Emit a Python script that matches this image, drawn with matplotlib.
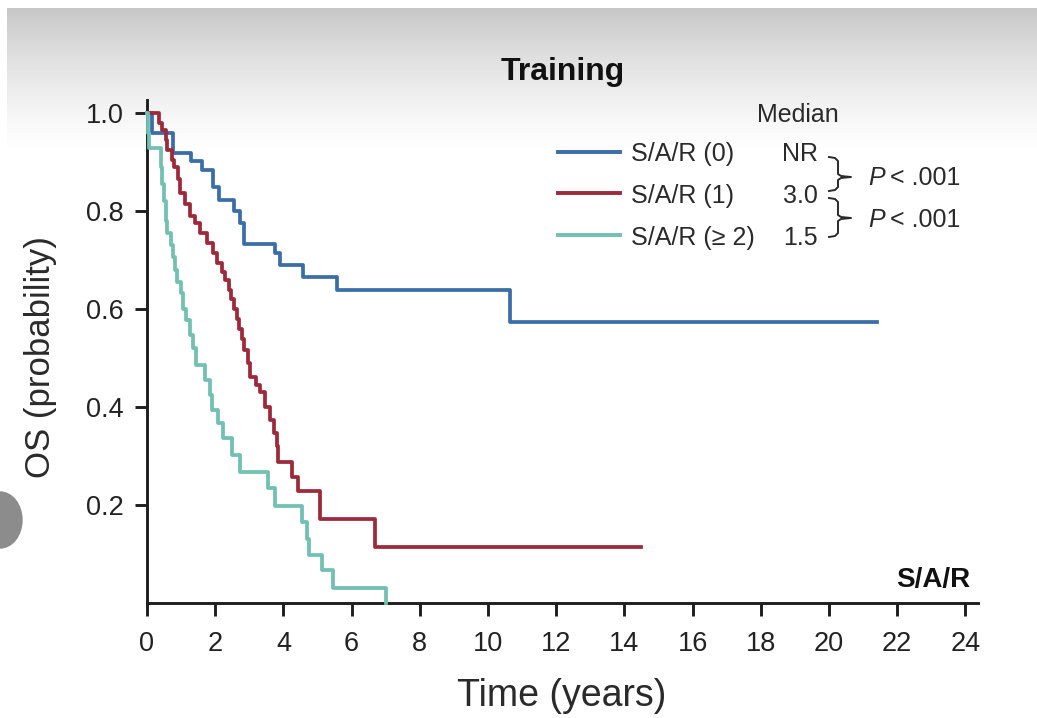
import matplotlib
matplotlib.use('Agg')
import matplotlib.pyplot as plt
import numpy as np
from matplotlib.lines import Line2D
from matplotlib.patches import Ellipse

# ---------------- data ----------------
blue_t = [0, 0.15, 0.77, 1.3, 1.6, 1.95, 2.1, 2.55, 2.72, 2.85, 3.75, 3.9, 4.57, 5.56, 10.65, 21.4]
blue_s = [1.0, 0.96, 0.918, 0.902, 0.884, 0.85, 0.822, 0.80, 0.775, 0.733, 0.714, 0.69, 0.665, 0.64, 0.573, 0.573]

red_t = [0, 0.35, 0.45, 0.55, 0.6, 0.72, 0.8, 0.9, 0.97, 1.1, 1.25, 1.4, 1.55, 1.75, 1.95, 2.05,
         2.2, 2.3, 2.4, 2.45, 2.55, 2.65, 2.7, 2.8, 2.85, 2.95, 3.02, 3.2, 3.31, 3.45, 3.6, 3.72,
         3.8, 3.85, 4.25, 4.43, 5.07, 6.69, 14.5]
red_s = [1.0, 0.98, 0.965, 0.945, 0.925, 0.905, 0.89, 0.865, 0.837, 0.815, 0.79, 0.775, 0.755, 0.735, 0.715, 0.694,
         0.675, 0.66, 0.64, 0.62, 0.60, 0.58, 0.56, 0.54, 0.516, 0.49, 0.461, 0.445, 0.43, 0.40, 0.373, 0.347,
         0.32, 0.288, 0.257, 0.229, 0.171, 0.114, 0.114]

teal_t = [0, 0.03, 0.06, 0.4, 0.45, 0.5, 0.55, 0.6, 0.7, 0.75, 0.82, 0.88, 1.0, 1.05, 1.15, 1.25, 1.35,
          1.45, 1.7, 1.85, 1.92, 2.08, 2.23, 2.5, 2.73, 3.55, 3.75, 4.55, 4.7, 4.75, 5.13, 5.45, 7.0]
teal_s = [1.0, 0.96, 0.93, 0.89, 0.855, 0.82, 0.78, 0.755, 0.73, 0.706, 0.68, 0.655, 0.632, 0.6, 0.578, 0.547, 0.52,
          0.486, 0.455, 0.425, 0.394, 0.367, 0.337, 0.302, 0.267, 0.235, 0.198, 0.165, 0.13, 0.098, 0.067, 0.03, 0.0]

group_labels = ["S/A/R (0)", "S/A/R (1)", "S/A/R (\u2265 2)"]
medians = ["NR", "3.0", "1.5"]
p_values = [".001", ".001"]
x_ticks = list(range(0, 25, 2))
y_ticks = [0.2, 0.4, 0.6, 0.8, 1.0]
y_ticklabels = ["0.2", "0.4", "0.6", "0.8", "1.0"]

colors = ['#3b6da6', '#9c2a3b', '#72c0b2']

# ---------------- figure ----------------
W, H = 1037, 718
plt.rcParams['font.family'] = ['Liberation Sans', 'DejaVu Sans']
fig = plt.figure(figsize=(W / 100, H / 100), dpi=100)


def fx(x):
    return x / W


def fy(y):
    return 1 - y / H


# background gradient
bg = fig.add_axes([0, 0, 1, 1], zorder=-10)
bg.axis('off')
rows = np.arange(H)
tt = np.clip((rows - 8) / 150.0, 0, 1)
v = 1 - 0.22 * (1 - tt) ** 1.4
v[rows < 8] = 1.0
img = np.tile(v[:, None], (1, W))
img[:, :7] = 1.0
bg.imshow(img, cmap='gray', vmin=0, vmax=1, aspect='auto', extent=[0, W, H, 0], interpolation='bilinear')
bg.set_xlim(0, W)
bg.set_ylim(H, 0)
bg.add_patch(Ellipse((0, 520), 44, 56, color='#8c8c8c'))

# main axes
ax = fig.add_axes([fx(147), fy(603), 831 / W, 503 / H])
ax.patch.set_alpha(0)
for t, s, c in zip([blue_t, red_t, teal_t], [blue_s, red_s, teal_s], colors):
    ax.step(t, s, where='post', color=c, lw=2.7, clip_on=False, zorder=3)

ax.set_xlim(0, 24.37)
ax.set_ylim(0, 1.027)
ax.set_xticks(x_ticks)
ax.set_yticks(y_ticks)
ax.set_yticklabels(y_ticklabels)
for sp in ['top', 'right']:
    ax.spines[sp].set_visible(False)
for sp in ['left', 'bottom']:
    ax.spines[sp].set_color('#1e1e1e')
    ax.spines[sp].set_linewidth(2.1)
ax.tick_params(axis='both', direction='out', length=9, width=2.1, color='#1e1e1e',
               labelsize=19.5, labelcolor='#222222')
ax.tick_params(axis='y', pad=8)
ax.tick_params(axis='x', pad=11)

# titles / labels
fig.text(fx(563), fy(80), "Training", ha='center', va='baseline', fontsize=23,
         fontweight='bold', color='#111111')
fig.text(fx(562), fy(706), "Time (years)", ha='center', va='baseline', fontsize=27, color='#2a2a2a')
fig.text(fx(41), fy(357), "OS (probability)", ha='center', va='center', rotation=90,
         fontsize=25, color='#2a2a2a')
fig.text(fx(970), fy(587), "S/A/R", ha='right', va='baseline', fontsize=20,
         fontweight='bold', color='#111111')

# legend (manual)
fig.text(fx(757), fy(122), "Median", ha='left', va='baseline', fontsize=18, color='#2a2a2a')
row_base = [161, 203, 245]
line_y = [152, 193, 235]
for lab, med, c, yb, yl in zip(group_labels, medians, colors, row_base, line_y):
    fig.add_artist(Line2D([fx(558), fx(620)], [fy(yl), fy(yl)], color=c, lw=2.8,
                          transform=fig.transFigure))
    fig.text(fx(631), fy(yb), lab, ha='left', va='baseline', fontsize=18, color='#2a2a2a')
    fig.text(fx(818), fy(yb), med, ha='right', va='baseline', fontsize=18, color='#2a2a2a')


def bracket(y0, y1, ym):
    xs = [829, 835, 838, 838, 841, 851, 841, 838, 838, 835, 829]
    ys = [y0, y0 + 1, y0 + 4, ym - 3, ym - 1, ym, ym + 1, ym + 3, y1 - 4, y1 - 1, y1]
    fig.add_artist(Line2D([fx(x) for x in xs], [fy(y) for y in ys], color='#2a2a2a', lw=1.4,
                          transform=fig.transFigure))


bracket(157, 191, 177)
bracket(198, 237, 218)
for pv, yb in zip(p_values, [185, 227]):
    fig.text(fx(868), fy(yb), "P", ha='left', va='baseline', fontsize=18, style='italic', color='#2a2a2a')
    fig.text(fx(890), fy(yb), "< " + pv, ha='left', va='baseline', fontsize=18, color='#2a2a2a')

fig.savefig('out.png', dpi=100)
